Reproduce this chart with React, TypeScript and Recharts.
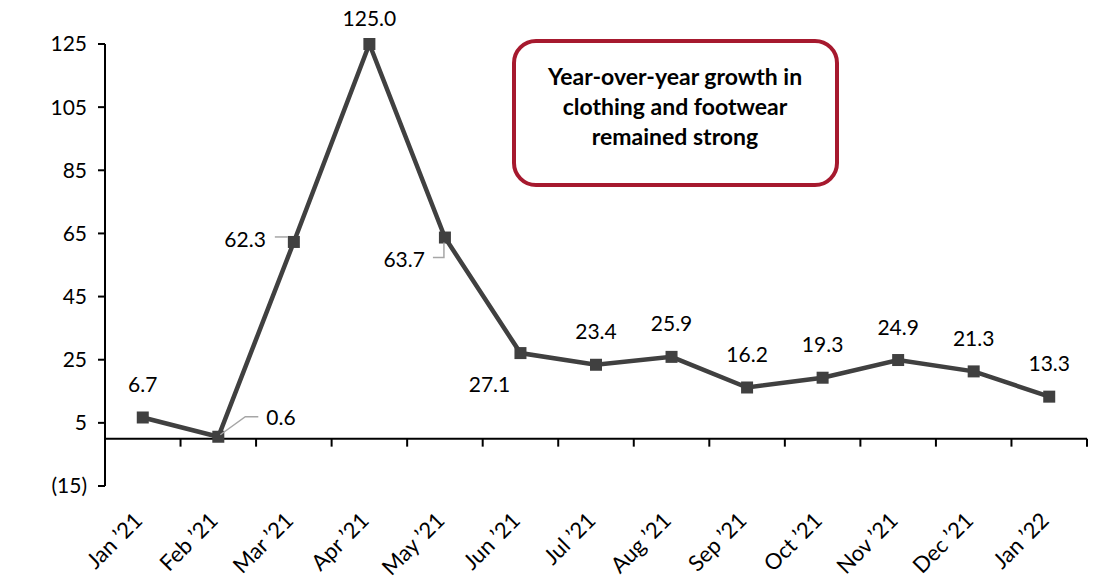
import React from 'react';
import { LineChart, Line, XAxis, YAxis, ReferenceLine, LabelList, Customized } from 'recharts';

const months = ['Jan ’21', 'Feb ’21', 'Mar ’21', 'Apr ’21', 'May ’21', 'Jun ’21', 'Jul ’21', 'Aug ’21', 'Sep ’21', 'Oct ’21', 'Nov ’21', 'Dec ’21', 'Jan ’22'];
const growth = [6.7, 0.6, 62.3, 125.0, 63.7, 27.1, 23.4, 25.9, 16.2, 19.3, 24.9, 21.3, 13.3];
const yTicks = [-15, 5, 25, 45, 65, 85, 105, 125];
const noteLines = ['Year-over-year growth in', 'clothing and footwear', 'remained strong'];

const data = months.map((m, i) => ({ month: m, value: growth[i] }));

const FONT = 'Lato, "Open Sans", sans-serif';
const LINE = '#404040';
const LEADER = '#a6a6a6';
const PLOT_W = 1117 - 105 - 30;
const HALF_BAND = PLOT_W / months.length / 2;

type Place = { dx: number; dy: number; anchor: 'start' | 'middle' | 'end'; leader?: (cx: number, cy: number) => string };
const placeFor = (idx: number): Place => {
  switch (months[idx]) {
    case 'Feb ’21':
      return { dx: 48, dy: -20, anchor: 'start', leader: (cx, cy) => `M${cx + 2},${cy - 2} L${cx + 27},${cy - 20} L${cx + 40},${cy - 20}` };
    case 'Mar ’21':
      return { dx: -28, dy: -3, anchor: 'end', leader: (cx, cy) => `M${cx - 19},${cy - 5} L${cx - 6},${cy - 5}` };
    case 'Apr ’21':
      return { dx: 0, dy: -27, anchor: 'middle' };
    case 'May ’21':
      return { dx: -20, dy: 21, anchor: 'end', leader: (cx, cy) => `M${cx - 12},${cy + 20} L${cx - 1},${cy + 20} L${cx - 1},${cy + 5}` };
    case 'Jun ’21':
      return { dx: -31, dy: 30, anchor: 'middle' };
    default:
      return { dx: 0, dy: -34, anchor: 'middle' };
  }
};

const renderLabel = (props: any) => {
  const { x, y, value, index } = props;
  const p = placeFor(index);
  return (
    <g key={`lbl-${index}`}>
      {p.leader && <path d={p.leader(x, y)} stroke={LEADER} strokeWidth={1.5} fill="none" />}
      <text x={x + p.dx} y={y + p.dy} textAnchor={p.anchor} dominantBaseline="central" fontFamily={FONT} fontSize={21} fill="#000">
        {Number(value).toFixed(1)}
      </text>
    </g>
  );
};

const renderDot = (props: any) => {
  const { cx, cy, index } = props;
  return <rect key={`dot-${index}`} x={cx - 6} y={cy - 6} width={12} height={12} fill={LINE} />;
};

const XTick = (props: any) => {
  const { x, y, payload } = props;
  return (
    <text transform={`translate(${x - 5},${y + 22}) rotate(-45)`} textAnchor="end" dominantBaseline="central" fontFamily={FONT} fontSize={22} fill="#000">
      {payload.value}
    </text>
  );
};

const ZeroAxis = (props: any) => {
  const { x1, x2, y1 } = props;
  const n = months.length;
  const step = (x2 - x1) / n;
  const ticks = [];
  for (let k = 1; k <= n; k++) {
    const tx = x1 + step * k;
    ticks.push(<line key={k} x1={tx} x2={tx} y1={y1} y2={y1 + 8} stroke="#000" strokeWidth={2} />);
  }
  return (
    <g>
      <line x1={x1} x2={x2} y1={y1} y2={y1} stroke="#000" strokeWidth={2} />
      {ticks}
    </g>
  );
};

const Note = () => (
  <g>
    <rect x={514} y={41} width={323} height={144} rx={22} ry={22} fill="#fff" stroke="#A6192E" strokeWidth={4} />
    {noteLines.map((t, i) => (
      <text key={i} x={675} y={76 + i * 30} textAnchor="middle" dominantBaseline="central" fontFamily={FONT} fontWeight={700} fontSize={23} fill="#000">
        {t}
      </text>
    ))}
  </g>
);

export default function App() {
  return (
    <div style={{ position: 'absolute', left: 0, top: 0, width: 1117, height: 585, background: '#fff' }}>
      <LineChart width={1117} height={585} data={data} margin={{ top: 44, right: 30, bottom: 0, left: 0 }}>
        <XAxis
          dataKey="month"
          interval={0}
          axisLine={false}
          tickLine={false}
          tick={<XTick />}
          height={99}
          padding={{ left: HALF_BAND, right: HALF_BAND }}
        />
        <YAxis
          type="number"
          domain={[-15, 125]}
          ticks={yTicks}
          width={105}
          axisLine={{ stroke: '#000', strokeWidth: 2 }}
          tickLine={{ stroke: '#000', strokeWidth: 2 }}
          tickSize={7}
          tickMargin={11}
          tick={{ fontFamily: FONT, fontSize: 21, fill: '#000' }}
          tickFormatter={(v: number) => (v < 0 ? `(${Math.abs(v)})` : `${v}`)}
        />
        <ReferenceLine y={0} shape={<ZeroAxis />} />
        <Customized component={Note} />
        <Line
          type="linear"
          dataKey="value"
          stroke={LINE}
          strokeWidth={4.5}
          dot={renderDot}
          activeDot={false}
          isAnimationActive={false}
        >
          <LabelList dataKey="value" content={renderLabel} />
        </Line>
      </LineChart>
    </div>
  );
}
